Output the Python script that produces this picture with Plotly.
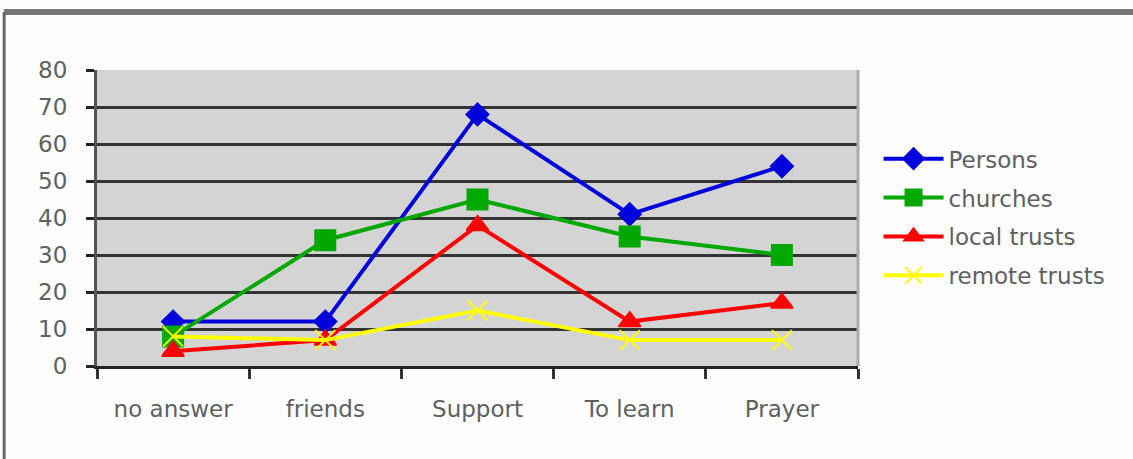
import plotly.graph_objects as go

# Chart data
categories = ["no answer", "friends", "Support", "To learn", "Prayer"]
persons = [12, 12, 68, 41, 54]
churches = [8, 34, 45, 35, 30]
local_trusts = [4, 7, 38, 12, 17]
remote_trusts = [8, 7, 15, 7, 7]

series = [
    ("Persons", persons, "#0000dd", "diamond", 17),
    ("churches", churches, "#00a800", "square", 20),
    ("local trusts", local_trusts, "#ff0000", "triangle-up", 19),
    ("remote trusts", remote_trusts, "#ffff00", "x-thin-open", 20),
]

fig = go.Figure()
for name, vals, color, symbol, size in series:
    fig.add_trace(go.Scatter(
        x=categories,
        y=vals,
        name=name,
        legendgroup=name,
        mode="lines+markers",
        line=dict(color=color, width=4),
        marker=dict(symbol=symbol, size=size, color=color,
                    line=dict(color=color, width=2)),
        cliponaxis=False,
    ))

label_font = dict(family="DejaVu Sans", size=23, color="#606060")

fig.update_layout(
    width=1133,
    height=459,
    margin=dict(l=97, r=275, t=70, b=93),
    paper_bgcolor="#fdfdfd",
    plot_bgcolor="#d4d4d4",
    font=label_font,
    showlegend=True,
    legend=dict(
        x=1.027, y=0.773, xanchor="left", yanchor="top",
        bgcolor="rgba(0,0,0,0)", itemwidth=60,
        font=label_font, tracegroupgap=6,
    ),
    xaxis=dict(
        type="category",
        range=[-0.5, 4.5],
        tickson="boundaries",
        ticks="outside", ticklen=10, tickwidth=3, tickcolor="#333",
        showgrid=False,
        showline=True, linecolor="#222", linewidth=3,
        ticklabelstandoff=20,
        tickfont=label_font,
    ),
    yaxis=dict(
        range=[0, 80], dtick=10,
        ticks="outside", ticklen=8, tickwidth=3, tickcolor="#222",
        showgrid=True, gridcolor="#333", gridwidth=3,
        showline=True, linecolor="#555", linewidth=3,
        zeroline=False,
        ticklabelstandoff=14,
        tickfont=label_font,
    ),
    shapes=[
        # right edge of the plot area
        dict(type="line", xref="paper", yref="paper", x0=1, x1=1, y0=0, y1=1,
             line=dict(color="#aaaaaa", width=3)),
        # outer frame (top and left edges)
        dict(type="line", xref="paper", yref="paper", x0=-0.122, x1=1.4,
             y0=1.196, y1=1.196, line=dict(color="#777777", width=6)),
        dict(type="line", xref="paper", yref="paper", x0=-0.122, x1=-0.122,
             y0=-0.4, y1=1.196, line=dict(color="#666666", width=3)),
    ],
)

# drop the default page margin so the figure sits at the window corner
fig.write_html("out.html", config={"displayModeBar": False},
               post_script="document.body.style.margin='0';")
